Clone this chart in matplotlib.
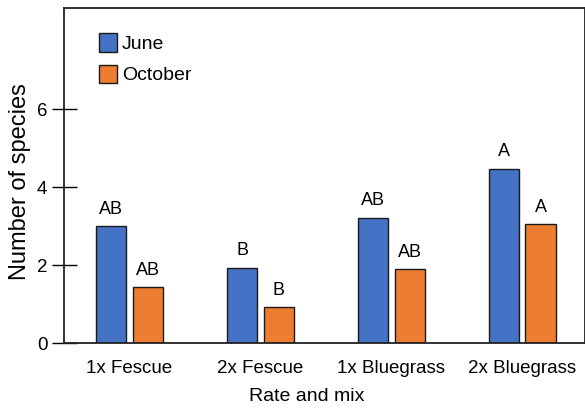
import matplotlib
matplotlib.use("Agg")
import matplotlib.pyplot as plt
import numpy as np

plt.rcParams['font.family'] = ['Liberation Sans', 'DejaVu Sans']

categories = ["1x Fescue", "2x Fescue", "1x Bluegrass", "2x Bluegrass"]
june = [3.0, 1.93, 3.22, 4.47]
october = [1.43, 0.92, 1.89, 3.05]
june_letters = ["AB", "B", "AB", "A"]
october_letters = ["AB", "B", "AB", "A"]
yticks = [0, 2, 4, 6]

blue = "#4472C4"
orange = "#ED7D31"

fig = plt.figure(figsize=(5.85, 4.08), dpi=100)
ax = fig.add_axes([64/585, 65/408, 521/585, 335/408])

x = np.arange(len(categories))
w = 0.23
off = 0.14
ax.bar(x - off, june, w, color=blue, edgecolor="#1a1a1a", linewidth=1.0, label="June", zorder=2)
ax.bar(x + off, october, w, color=orange, edgecolor="#1a1a1a", linewidth=1.0, label="October", zorder=2)

for xi, v, t in zip(x - off, june, june_letters):
    ax.text(xi, v + 0.22, t, ha="center", va="bottom", fontsize=13)
for xi, v, t in zip(x + off, october, october_letters):
    ax.text(xi, v + 0.22, t, ha="center", va="bottom", fontsize=13)

ax.set_xlim(-0.5, 3.48)
ax.set_ylim(0, 8.6)
ax.set_xticks(x)
ax.set_xticklabels(categories, fontsize=13.5)
ax.set_yticks(yticks)
ax.set_yticklabels([str(t) for t in yticks], fontsize=13.5)
ax.tick_params(axis="x", length=0, pad=12)
ax.tick_params(axis="y", direction="inout", length=18, width=1.0, pad=3)
for s in ax.spines.values():
    s.set_linewidth(1.3)
    s.set_color("#222222")

ax.set_xlabel("Rate and mix", fontsize=14)
ax.xaxis.set_label_coords(0.466, -0.135)
ax.set_ylabel("Number of species", fontsize=17)
ax.yaxis.set_label_coords(-0.064, 0.483)

ax.legend(loc="upper left", bbox_to_anchor=(0.068, 0.925), frameon=False,
          fontsize=14, handlelength=0.88, handleheight=1.08,
          handletextpad=0.28, labelspacing=0.6, borderpad=0, borderaxespad=0)

fig.savefig("out.png", dpi=100)
